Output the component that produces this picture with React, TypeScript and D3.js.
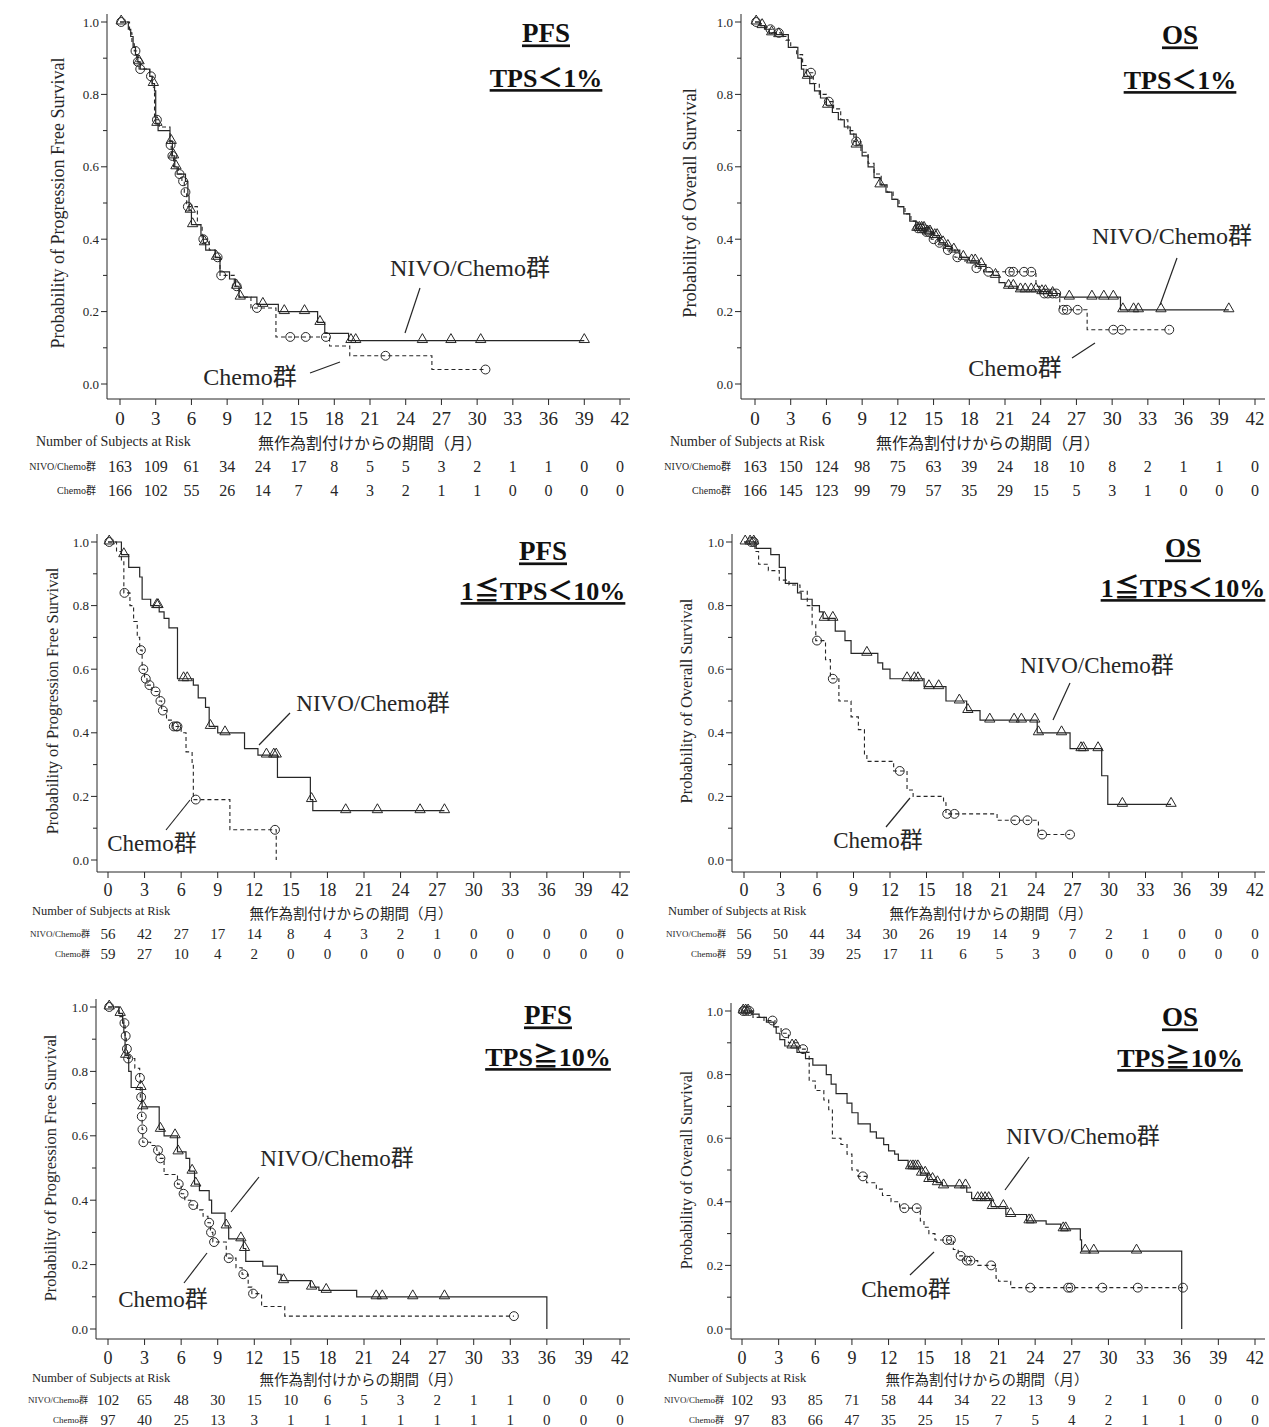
import React from "react";
import * as d3 from "d3";

type Step = [number, number];

// ---------- shared ticks ----------
const MONTHS = [0, 3, 6, 9, 12, 15, 18, 21, 24, 27, 30, 33, 36, 39, 42];
const Y_MAJOR = [0, 0.2, 0.4, 0.6, 0.8, 1.0];
const Y_MINOR = [0.1, 0.3, 0.5, 0.7, 0.9];

// ---------- PFS, TPS<1% ----------
const pfsLt1Nivo: Step[] = [[0,1.0],[0.7,0.98],[0.9,0.96],[1.1,0.93],[1.3,0.91],[1.5,0.89],[1.7,0.87],[2.5,0.85],[2.7,0.83],[2.9,0.81],[3.0,0.72],[3.2,0.70],[4.2,0.67],[4.4,0.63],[4.6,0.60],[4.8,0.58],[5.5,0.56],[5.7,0.52],[5.8,0.48],[6.0,0.44],[6.8,0.41],[7.0,0.39],[7.2,0.37],[8.0,0.35],[8.4,0.31],[9.2,0.29],[9.7,0.27],[10.0,0.24],[11.5,0.22],[13.3,0.20],[16.6,0.17],[17.2,0.14],[19.2,0.12],[39.0,0.12]];
const pfsLt1NivoCens = [0.1,1.6,2.8,3.1,4.3,4.5,4.7,5.9,6.1,7.1,8.1,9.8,10.1,12.0,13.8,15.5,16.8,19.4,19.8,25.4,27.8,30.3,39.0];
const pfsLt1Chemo: Step[] = [[0,1.0],[0.8,0.97],[1.0,0.94],[1.2,0.92],[1.4,0.89],[1.6,0.87],[2.5,0.85],[2.7,0.82],[2.9,0.73],[3.3,0.71],[4.2,0.66],[4.3,0.63],[4.5,0.60],[4.9,0.58],[5.2,0.56],[5.4,0.53],[5.6,0.49],[6.5,0.44],[6.9,0.40],[7.5,0.37],[8.0,0.35],[8.4,0.30],[9.6,0.27],[10.0,0.24],[11.0,0.21],[13.1,0.13],[17.6,0.105],[19.3,0.078],[26.2,0.04],[30.7,0.04]];
const pfsLt1ChemoCens = [0.1,1.3,1.5,1.7,2.6,3.1,4.25,4.4,5.0,5.3,5.5,5.7,7.0,8.2,8.5,9.8,11.5,14.3,15.6,17.3,22.3,30.7];
const pfsLt1RiskNivo = [163,109,61,34,24,17,8,5,5,3,2,1,1,0,0];
const pfsLt1RiskChemo = [166,102,55,26,14,7,4,3,2,1,1,0,0,0,0];

// ---------- OS, TPS<1% ----------
const osLt1Nivo: Step[] = [[0,1.0],[0.4,0.99],[0.8,0.98],[1.2,0.97],[1.8,0.965],[2.8,0.93],[3.6,0.9],[3.9,0.87],[4.1,0.85],[4.6,0.83],[5.0,0.81],[5.5,0.79],[6.0,0.77],[6.5,0.75],[7.0,0.73],[7.5,0.71],[8.0,0.69],[8.5,0.66],[9.0,0.63],[9.5,0.60],[10.0,0.57],[10.5,0.55],[11.0,0.53],[11.5,0.51],[12.0,0.49],[12.5,0.47],[13.0,0.45],[13.5,0.43],[14.3,0.42],[15.0,0.41],[15.5,0.39],[16.0,0.38],[16.5,0.37],[17.2,0.35],[18.0,0.34],[18.8,0.33],[19.4,0.31],[20.0,0.30],[20.5,0.28],[21.0,0.27],[22.0,0.26],[24.0,0.255],[24.8,0.25],[25.6,0.24],[30.7,0.205],[39.8,0.205]];
const osLt1NivoCens = [0.1,0.6,1.4,2.0,4.4,6.1,8.5,10.5,13.6,13.8,14.0,14.2,14.5,14.7,15.1,15.3,15.8,16.2,16.7,17.5,18.2,18.5,19.0,20.2,21.3,21.7,22.3,22.7,23.2,23.6,24.1,24.4,25.0,26.4,28.3,29.3,30.1,30.9,31.8,32.2,34.1,39.8];
const osLt1Chemo: Step[] = [[0,1.0],[0.5,0.99],[0.9,0.98],[1.5,0.97],[2.2,0.96],[2.6,0.95],[3.0,0.93],[3.5,0.91],[4.0,0.88],[4.3,0.86],[4.9,0.83],[5.4,0.80],[6.0,0.78],[6.6,0.76],[7.2,0.73],[7.8,0.70],[8.3,0.67],[8.9,0.64],[9.5,0.61],[10.0,0.58],[10.6,0.55],[11.1,0.53],[11.6,0.51],[12.1,0.49],[12.6,0.47],[13.1,0.45],[13.6,0.43],[14.2,0.42],[14.8,0.40],[15.4,0.39],[16.0,0.37],[16.8,0.35],[17.6,0.34],[18.5,0.32],[19.2,0.31],[23.6,0.27],[23.9,0.25],[25.6,0.205],[27.9,0.15],[34.8,0.15]];
const osLt1ChemoCens = [0.1,1.3,2.0,4.7,6.2,8.5,13.7,13.9,14.1,14.4,14.6,15.0,15.5,16.2,17.0,18.6,19.6,21.4,21.7,22.6,23.2,24.3,24.6,25.0,25.3,25.9,26.2,27.1,30.1,30.8,34.8];
const osLt1RiskNivo = [163,150,124,98,75,63,39,24,18,10,8,2,1,1,0];
const osLt1RiskChemo = [166,145,123,99,79,57,35,29,15,5,3,1,0,0,0];

// ---------- PFS, 1<=TPS<10% ----------
const pfsMidNivo: Step[] = [[0,1.0],[1.1,0.96],[1.7,0.92],[2.6,0.89],[2.8,0.82],[3.5,0.80],[4.2,0.78],[4.6,0.76],[5.0,0.73],[5.7,0.57],[7.0,0.55],[7.4,0.51],[8.0,0.48],[8.3,0.42],[9.0,0.40],[11.2,0.35],[12.3,0.33],[13.9,0.26],[16.6,0.19],[16.8,0.155],[27.6,0.155]];
const pfsMidNivoCens = [0.1,1.3,4.0,4.1,6.2,6.5,8.4,9.6,13.0,13.6,13.8,16.7,19.5,22.1,25.6,27.6];
const pfsMidChemo: Step[] = [[0,1.0],[0.7,0.97],[1.1,0.94],[1.3,0.84],[1.8,0.80],[2.1,0.75],[2.4,0.70],[2.6,0.66],[2.8,0.60],[3.0,0.57],[3.2,0.55],[3.6,0.53],[4.2,0.50],[4.4,0.47],[4.8,0.44],[5.3,0.42],[6.0,0.40],[6.4,0.34],[6.9,0.30],[7.0,0.19],[10.0,0.095],[13.8,0]];
const pfsMidChemoCens = [0.1,1.35,2.7,2.9,3.1,3.4,3.9,4.3,4.5,5.4,5.6,5.7,7.2,13.7];
const pfsMidRiskNivo = [56,42,27,17,14,8,4,3,2,1,0,0,0,0,0];
const pfsMidRiskChemo = [59,27,10,4,2,0,0,0,0,0,0,0,0,0,0];

// ---------- OS, 1<=TPS<10% ----------
const osMidNivo: Step[] = [[0,1.0],[1.0,0.98],[2.2,0.96],[2.9,0.92],[3.4,0.87],[4.4,0.84],[4.7,0.82],[5.6,0.80],[6.2,0.78],[6.5,0.76],[7.5,0.72],[8.3,0.69],[8.8,0.65],[11.0,0.62],[11.4,0.60],[12.0,0.57],[14.8,0.545],[16.6,0.50],[18.3,0.47],[19.4,0.44],[24.1,0.40],[26.8,0.35],[29.4,0.265],[29.9,0.175],[35.1,0.175]];
const osMidNivoCens = [0.1,0.5,0.8,6.6,7.3,10.1,13.4,14.0,14.3,15.2,16.0,17.7,18.4,20.2,22.2,22.8,23.9,24.2,26.1,27.7,27.9,29.1,31.1,35.1];
const osMidChemo: Step[] = [[0,1.0],[0.9,0.97],[1.2,0.93],[2.0,0.91],[2.9,0.88],[3.7,0.865],[4.6,0.845],[5.2,0.80],[5.6,0.74],[5.9,0.69],[6.7,0.63],[7.1,0.57],[7.8,0.50],[8.8,0.45],[9.4,0.41],[9.9,0.33],[10.1,0.31],[12.3,0.28],[13.4,0.22],[13.9,0.20],[16.4,0.18],[16.6,0.145],[20.8,0.125],[24.2,0.08],[26.8,0.08]];
const osMidChemoCens = [0.6,0.8,6.0,7.3,12.8,16.7,17.3,22.3,23.3,24.5,26.8];
const osMidRiskNivo = [56,50,44,34,30,26,19,14,9,7,2,1,0,0,0];
const osMidRiskChemo = [59,51,39,25,17,11,6,5,3,0,0,0,0,0,0];

// ---------- PFS, TPS>=10% ----------
const pfsHiNivo: Step[] = [[0,1.0],[0.9,0.98],[1.2,0.95],[1.3,0.92],[1.4,0.85],[1.7,0.80],[1.9,0.75],[2.8,0.69],[4.2,0.62],[4.6,0.60],[5.7,0.55],[6.4,0.53],[6.7,0.49],[7.1,0.45],[7.5,0.43],[8.3,0.40],[8.5,0.36],[9.6,0.32],[9.9,0.28],[11.1,0.25],[11.3,0.21],[12.7,0.195],[13.9,0.17],[14.2,0.15],[16.6,0.13],[17.3,0.12],[20.4,0.10],[36.0,0.0]];
const pfsHiNivoCens = [0.1,1.0,1.45,2.7,2.85,4.3,5.5,5.75,6.9,7.2,9.7,10.9,11.2,14.4,16.7,17.9,22.0,22.5,25.0,27.6];
const pfsHiChemo: Step[] = [[0,1.0],[0.9,0.97],[1.3,0.95],[1.4,0.91],[1.5,0.87],[1.6,0.84],[2.2,0.81],[2.6,0.78],[2.65,0.72],[2.75,0.66],[2.8,0.62],[2.85,0.58],[3.5,0.57],[4.0,0.555],[4.2,0.53],[4.6,0.48],[5.7,0.45],[6.0,0.42],[6.3,0.40],[6.8,0.385],[7.3,0.37],[7.8,0.35],[8.2,0.33],[8.4,0.30],[8.6,0.27],[9.7,0.22],[10.5,0.19],[11.0,0.17],[11.5,0.13],[11.8,0.11],[12.6,0.07],[14.5,0.04],[33.3,0.04]];
const pfsHiChemoCens = [0.1,1.35,1.45,1.55,1.65,2.62,2.72,2.77,2.82,2.9,4.1,4.3,5.8,6.2,7.0,8.3,8.45,8.7,9.9,11.1,11.9,33.3];
const pfsHiRiskNivo = [102,65,48,30,15,10,6,5,3,2,1,1,0,0,0];
const pfsHiRiskChemo = [97,40,25,13,3,1,1,1,1,1,1,1,0,0,0];

// ---------- OS, TPS>=10% ----------
const osHiNivo: Step[] = [[0,1.0],[0.8,0.99],[1.4,0.98],[2.0,0.965],[2.6,0.95],[2.8,0.93],[3.1,0.91],[3.5,0.89],[4.5,0.87],[5.2,0.85],[5.8,0.83],[6.9,0.80],[7.3,0.77],[7.7,0.74],[8.6,0.71],[9.0,0.68],[9.5,0.645],[10.5,0.62],[11.0,0.60],[11.6,0.58],[12.0,0.56],[12.5,0.55],[12.8,0.53],[13.6,0.51],[14.6,0.49],[15.2,0.47],[15.9,0.46],[16.4,0.45],[18.4,0.43],[18.8,0.41],[20.4,0.385],[21.6,0.36],[23.3,0.34],[24.9,0.33],[26.1,0.315],[27.7,0.28],[27.8,0.245],[36.0,0.0]];
const osHiNivoCens = [0.1,0.3,0.5,4.1,4.4,13.8,14.0,14.2,14.4,14.7,15.0,15.3,15.6,16.0,16.5,17.8,18.3,19.3,19.6,19.9,20.2,20.5,21.4,22.0,23.5,23.7,26.3,26.5,28.1,28.8,32.3];
const osHiChemo: Step[] = [[0,1.0],[0.9,0.98],[1.8,0.97],[2.7,0.95],[3.2,0.93],[3.8,0.90],[4.6,0.88],[5.3,0.87],[5.5,0.78],[6.0,0.75],[6.7,0.72],[7.1,0.69],[7.4,0.60],[8.1,0.58],[8.6,0.55],[9.0,0.50],[9.5,0.48],[10.2,0.46],[11.0,0.44],[11.5,0.42],[12.2,0.40],[12.9,0.38],[14.6,0.34],[14.9,0.32],[15.3,0.30],[15.8,0.28],[17.3,0.25],[17.7,0.23],[18.2,0.215],[19.3,0.20],[20.8,0.16],[21.0,0.15],[22.0,0.13],[36.1,0.13]];
const osHiChemoCens = [0.1,0.3,0.6,2.5,3.6,5.0,9.9,13.3,14.3,16.8,17.1,17.9,18.4,18.7,20.4,23.6,26.7,26.9,29.5,32.4,36.1];
const osHiRiskNivo = [102,93,85,71,58,44,34,22,13,9,2,1,0,0,0];
const osHiRiskChemo = [97,83,66,47,35,25,15,7,5,4,2,1,1,0,0];

const NIVO_LABEL = "NIVO/Chemo群";
const CHEMO_LABEL = "Chemo群";
const X_TITLE = "無作為割付けからの期間（月）";
const RISK_TITLE = "Number of Subjects at Risk";
const PFS_Y = "Probability of Progression Free Survival";
const OS_Y = "Probability of Overall Survival";

const INK = "#262626";
const SERIF = "'Liberation Serif', 'DejaVu Serif', serif";
const JP = "'Liberation Serif', 'Noto Sans CJK JP', serif";

const panels = [
  {
    title: "PFS", sub: "TPS＜1%", yTitle: PFS_Y,
    nivo: pfsLt1Nivo, nivoCens: pfsLt1NivoCens, chemo: pfsLt1Chemo, chemoCens: pfsLt1ChemoCens,
    riskNivo: pfsLt1RiskNivo, riskChemo: pfsLt1RiskChemo,
    xr: [120, 620], yr: [384, 22], axisX: 107, axisY: 399, tickY: 418, tickFs: 19, yLabX: 58, yLabFs: 18,
    titleX: 546, titleY: 33, subY: 78,
    riskHdrX: 36, riskHdrY: 441, riskHdrFs: 14, jpX: 370, jpY: 443, jpFs: 16, rowY: [466, 490], rowLabR: 96, riskFs: 16, rowLabFs: 10,
    nLab: [470, 268], nLine: [420, 288, 405, 333], cLab: [250, 377], cLine: [310, 373, 340, 362], annFs: 24,
  },
  {
    title: "OS", sub: "TPS＜1%", yTitle: OS_Y,
    nivo: osLt1Nivo, nivoCens: osLt1NivoCens, chemo: osLt1Chemo, chemoCens: osLt1ChemoCens,
    riskNivo: osLt1RiskNivo, riskChemo: osLt1RiskChemo,
    xr: [755, 1255], yr: [384, 22], axisX: 741, axisY: 399, tickY: 418, tickFs: 19, yLabX: 690, yLabFs: 18.5,
    titleX: 1180, titleY: 35, subY: 80,
    riskHdrX: 670, riskHdrY: 441, riskHdrFs: 14, jpX: 988, jpY: 443, jpFs: 16, rowY: [466, 490], rowLabR: 731, riskFs: 16, rowLabFs: 10,
    nLab: [1172, 236], nLine: [1177, 258, 1160, 305], cLab: [1015, 368], cLine: [1072, 358, 1095, 343], annFs: 24,
  },
  {
    title: "PFS", sub: "1≦TPS＜10%", yTitle: PFS_Y,
    nivo: pfsMidNivo, nivoCens: pfsMidNivoCens, chemo: pfsMidChemo, chemoCens: pfsMidChemoCens,
    riskNivo: pfsMidRiskNivo, riskChemo: pfsMidRiskChemo,
    xr: [108, 620], yr: [860, 542], axisX: 97, axisY: 872, tickY: 890, tickFs: 18, yLabX: 52, yLabFs: 16.5,
    titleX: 543, titleY: 551, subY: 591,
    riskHdrX: 32, riskHdrY: 911, riskHdrFs: 12.5, jpX: 351, jpY: 914, jpFs: 14.5, rowY: [934, 954], rowLabR: 90, riskFs: 15, rowLabFs: 9,
    nLab: [373, 703], nLine: [290, 713, 259, 745], cLab: [152, 843], cLine: [190, 800, 166, 830], annFs: 23,
  },
  {
    title: "OS", sub: "1≦TPS＜10%", yTitle: OS_Y,
    nivo: osMidNivo, nivoCens: osMidNivoCens, chemo: osMidChemo, chemoCens: osMidChemoCens,
    riskNivo: osMidRiskNivo, riskChemo: osMidRiskChemo,
    xr: [744, 1255], yr: [860, 542], axisX: 732, axisY: 872, tickY: 890, tickFs: 18, yLabX: 686, yLabFs: 16.5,
    titleX: 1183, titleY: 548, subY: 588,
    riskHdrX: 668, riskHdrY: 911, riskHdrFs: 12.5, jpX: 991, jpY: 914, jpFs: 14.5, rowY: [934, 954], rowLabR: 726, riskFs: 15, rowLabFs: 9,
    nLab: [1097, 665], nLine: [1070, 683, 1053, 720], cLab: [878, 840], cLine: [910, 798, 886, 827], annFs: 23,
  },
  {
    title: "PFS", sub: "TPS≧10%", yTitle: PFS_Y,
    nivo: pfsHiNivo, nivoCens: pfsHiNivoCens, chemo: pfsHiChemo, chemoCens: pfsHiChemoCens,
    riskNivo: pfsHiRiskNivo, riskChemo: pfsHiRiskChemo,
    xr: [108, 620], yr: [1329, 1007], axisX: 96, axisY: 1339, tickY: 1358, tickFs: 18, yLabX: 50, yLabFs: 16.5,
    titleX: 548, titleY: 1015, subY: 1057,
    riskHdrX: 32, riskHdrY: 1378, riskHdrFs: 12.5, jpX: 361, jpY: 1380, jpFs: 14.5, rowY: [1400, 1420], rowLabR: 88, riskFs: 15, rowLabFs: 9,
    nLab: [337, 1158], nLine: [259, 1177, 231, 1212], cLab: [163, 1299], cLine: [207, 1253, 184, 1283], annFs: 23,
  },
  {
    title: "OS", sub: "TPS≧10%", yTitle: OS_Y,
    nivo: osHiNivo, nivoCens: osHiNivoCens, chemo: osHiChemo, chemoCens: osHiChemoCens,
    riskNivo: osHiRiskNivo, riskChemo: osHiRiskChemo,
    xr: [742, 1255], yr: [1329, 1011], axisX: 731, axisY: 1339, tickY: 1358, tickFs: 18, yLabX: 686, yLabFs: 16,
    titleX: 1180, titleY: 1017, subY: 1058,
    riskHdrX: 668, riskHdrY: 1378, riskHdrFs: 12.5, jpX: 987, jpY: 1380, jpFs: 14.5, rowY: [1400, 1420], rowLabR: 724, riskFs: 15, rowLabFs: 9,
    nLab: [1083, 1136], nLine: [1029, 1157, 1005, 1190], cLab: [906, 1289], cLine: [934, 1252, 910, 1275], annFs: 23,
  },
];

const survAt = (steps: Step[], t: number) => {
  let v = steps[0][1];
  for (const [st, sv] of steps) if (st <= t) v = sv;
  return v;
};

const triangle = d3.symbol().type(d3.symbolTriangle).size(46)();
const circle = d3.symbol().type(d3.symbolCircle).size(62)();

const KMPanel = ({ p }: { p: any }) => {
  const x = d3.scaleLinear().domain([0, 42]).range(p.xr);
  const y = d3.scaleLinear().domain([0, 1]).range(p.yr);
  const line = d3
    .line<Step>()
    .x((d) => x(d[0]))
    .y((d) => y(d[1]))
    .curve(d3.curveStepAfter);

  const yMid = (p.yr[0] + p.yr[1]) / 2;

  return (
    <g>
      {/* axes */}
      <line x1={p.axisX} x2={p.axisX} y1={p.yr[1] - 8} y2={p.axisY} stroke={INK} strokeWidth={1} />
      <line x1={p.axisX} x2={x(42) + 10} y1={p.axisY} y2={p.axisY} stroke={INK} strokeWidth={1} />
      {Y_MAJOR.map((v) => (
        <g key={"ym" + v}>
          <line x1={p.axisX - 6} x2={p.axisX} y1={y(v)} y2={y(v)} stroke={INK} />
          <text x={p.axisX - 8} y={y(v)} dy="0.35em" textAnchor="end" fontSize={13} fontFamily={SERIF} fill={INK}>
            {v.toFixed(1)}
          </text>
        </g>
      ))}
      {Y_MINOR.map((v) => (
        <line key={"yn" + v} x1={p.axisX - 4} x2={p.axisX} y1={y(v)} y2={y(v)} stroke={INK} />
      ))}
      {MONTHS.map((m) => (
        <g key={"xm" + m}>
          <line x1={x(m)} x2={x(m)} y1={p.axisY} y2={p.axisY + 6} stroke={INK} />
          <text x={x(m)} y={p.tickY} dy="0.35em" textAnchor="middle" fontSize={p.tickFs} fontFamily={SERIF} fill={INK}>
            {m}
          </text>
        </g>
      ))}
      <text
        transform={`translate(${p.yLabX},${yMid}) rotate(-90)`}
        textAnchor="middle"
        dy="0.35em"
        fontSize={p.yLabFs}
        fontFamily={SERIF}
        fill={INK}
      >
        {p.yTitle}
      </text>

      {/* curves */}
      <path d={line(p.chemo) || ""} fill="none" stroke={INK} strokeWidth={1.1} strokeDasharray="4,3" />
      <path d={line(p.nivo) || ""} fill="none" stroke={INK} strokeWidth={1.2} />
      {p.chemoCens.map((t: number, i: number) => (
        <path key={"cc" + i} d={circle || ""} transform={`translate(${x(t)},${y(survAt(p.chemo, t))})`} fill="none" stroke={INK} strokeWidth={1} />
      ))}
      {p.nivoCens.map((t: number, i: number) => (
        <path key={"nc" + i} d={triangle || ""} transform={`translate(${x(t)},${y(survAt(p.nivo, t)) - 1})`} fill="none" stroke={INK} strokeWidth={1} />
      ))}

      {/* titles */}
      <text x={p.titleX} y={p.titleY} dy="0.35em" textAnchor="middle" fontSize={27} fontWeight="bold" fontFamily={SERIF} fill="#111" style={{ textDecoration: "underline" }}>
        {p.title}
      </text>
      <text x={p.titleX} y={p.subY} dy="0.35em" textAnchor="middle" fontSize={26} fontWeight="bold" fontFamily={JP} fill="#111" style={{ textDecoration: "underline" }}>
        {p.sub}
      </text>

      {/* group annotations */}
      <text x={p.nLab[0]} y={p.nLab[1]} dy="0.35em" textAnchor="middle" fontSize={p.annFs} fontFamily={JP} fill={INK}>
        {NIVO_LABEL}
      </text>
      <line x1={p.nLine[0]} y1={p.nLine[1]} x2={p.nLine[2]} y2={p.nLine[3]} stroke={INK} strokeWidth={1.2} />
      <text x={p.cLab[0]} y={p.cLab[1]} dy="0.35em" textAnchor="middle" fontSize={p.annFs} fontFamily={JP} fill={INK}>
        {CHEMO_LABEL}
      </text>
      <line x1={p.cLine[0]} y1={p.cLine[1]} x2={p.cLine[2]} y2={p.cLine[3]} stroke={INK} strokeWidth={1.2} />

      {/* risk table */}
      <text x={p.riskHdrX} y={p.riskHdrY} dy="0.35em" fontSize={p.riskHdrFs} fontFamily={SERIF} fill={INK}>
        {RISK_TITLE}
      </text>
      <text x={p.jpX} y={p.jpY} dy="0.35em" textAnchor="middle" fontSize={p.jpFs} fontFamily={JP} fill={INK}>
        {X_TITLE}
      </text>
      <text x={p.rowLabR} y={p.rowY[0]} dy="0.35em" textAnchor="end" fontSize={p.rowLabFs} fontFamily={JP} fill={INK}>
        {NIVO_LABEL}
      </text>
      <text x={p.rowLabR} y={p.rowY[1]} dy="0.35em" textAnchor="end" fontSize={p.rowLabFs} fontFamily={JP} fill={INK}>
        {CHEMO_LABEL}
      </text>
      {MONTHS.map((m, i) => (
        <g key={"rk" + m}>
          <text x={x(m)} y={p.rowY[0]} dy="0.35em" textAnchor="middle" fontSize={p.riskFs} fontFamily={SERIF} fill={INK}>
            {p.riskNivo[i]}
          </text>
          <text x={x(m)} y={p.rowY[1]} dy="0.35em" textAnchor="middle" fontSize={p.riskFs} fontFamily={SERIF} fill={INK}>
            {p.riskChemo[i]}
          </text>
        </g>
      ))}
    </g>
  );
};

export default function App() {
  return (
    <svg
      width={1269}
      height={1427}
      style={{ position: "absolute", left: 0, top: 0, background: "#fff" }}
    >
      <rect width={1269} height={1427} fill="#fff" />
      {panels.map((p, i) => (
        <KMPanel key={i} p={p} />
      ))}
    </svg>
  );
}
